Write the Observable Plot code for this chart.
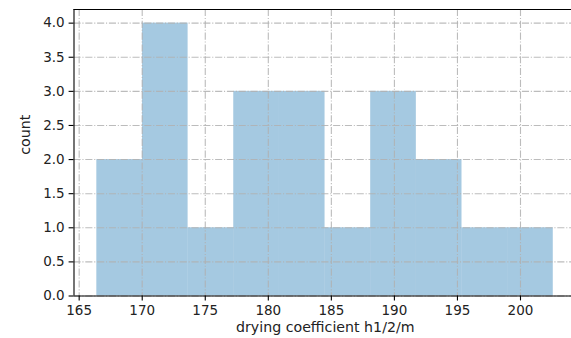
<!DOCTYPE html>
<html>
<head>
<meta charset="utf-8">
<script src="https://cdn.jsdelivr.net/npm/d3@7"></script>
<script src="https://cdn.jsdelivr.net/npm/@observablehq/plot@0.6"></script>
<style>
  html, body { margin: 0; padding: 0; background: #fff; overflow: hidden; }
  svg { display: block; }
</style>
</head>
<body>
<div id="chart"></div>
<script>
// Histogram bin edges (drying coefficient h1/2/m) and counts
const binEdges = [166.4, 170.02, 173.64, 177.26, 180.88, 184.5, 188.12, 191.74, 195.36, 198.98, 202.6];
const counts = [2, 4, 1, 3, 3, 1, 3, 2, 1, 1];
const xTicks = [165, 170, 175, 180, 185, 190, 195, 200];
const yTicks = [0, 0.5, 1.0, 1.5, 2.0, 2.5, 3.0, 3.5, 4.0];
const xLabel = "drying coefficient h1/2/m";
const yLabel = "count";

const bins = counts.map((c, i) => ({x1: binEdges[i], x2: binEdges[i + 1], count: c}));

const W = 571, H = 338;
const mL = 73.5, mT = 9, mB = 42.5;
const xDomain = [164.59, 204.41];
const yDomain = [0, 4.2];
const font = "DejaVu Sans, sans-serif";
const dash = "7.1,1.8,1.1,1.8";
const gridColor = "#b0b0b0";
const tickFont = 13.5;
const labelFont = 14.2;

const chart = Plot.plot({
  width: W,
  height: H,
  marginLeft: mL,
  marginRight: 0,
  marginTop: mT,
  marginBottom: mB,
  style: {fontFamily: font, fontSize: tickFont + "px", color: "#000", background: "#fff"},
  x: {domain: xDomain, range: [mL, 575.6]},
  y: {domain: yDomain},
  marks: [
    Plot.rectY(bins, {x1: "x1", x2: "x2", y: "count", fill: "#1f77b4", fillOpacity: 0.4, inset: 0}),
    Plot.ruleX(xTicks, {x: d => d, stroke: gridColor, strokeWidth: 1.1, strokeDasharray: dash, strokeOpacity: 0.85}),
    Plot.ruleY(yTicks, {y: d => d, stroke: gridColor, strokeWidth: 1.1, strokeDasharray: dash, strokeOpacity: 0.85}),
    Plot.axisX(xTicks, {tickSize: 4.9, tickPadding: 4.4, fontSize: tickFont, label: null, stroke: "#000", fill: "#222", strokeWidth: 1.1}),
    Plot.axisY(yTicks, {tickSize: 4.9, tickPadding: 4.4, fontSize: tickFont, label: null, tickFormat: d3.format(".1f"), stroke: "#000", fill: "#222", strokeWidth: 1.1}),
    Plot.ruleY([0], {stroke: "#000", strokeWidth: 1.1}),
    Plot.ruleY([4.2], {stroke: "#000", strokeWidth: 1.1}),
    Plot.ruleX([xDomain[0]], {stroke: "#000", strokeWidth: 1.1}),
    Plot.text([xLabel], {text: d => d, frameAnchor: "bottom", lineAnchor: "bottom", dy: 35.5, dx: 2.5, fontSize: labelFont, fill: "#222"}),
    Plot.text([yLabel], {text: d => d, frameAnchor: "left", dx: -48.5, dy: 2, rotate: -90, fontSize: labelFont, fill: "#222"})
  ]
});
document.getElementById("chart").appendChild(chart);
</script>
</body>
</html>
